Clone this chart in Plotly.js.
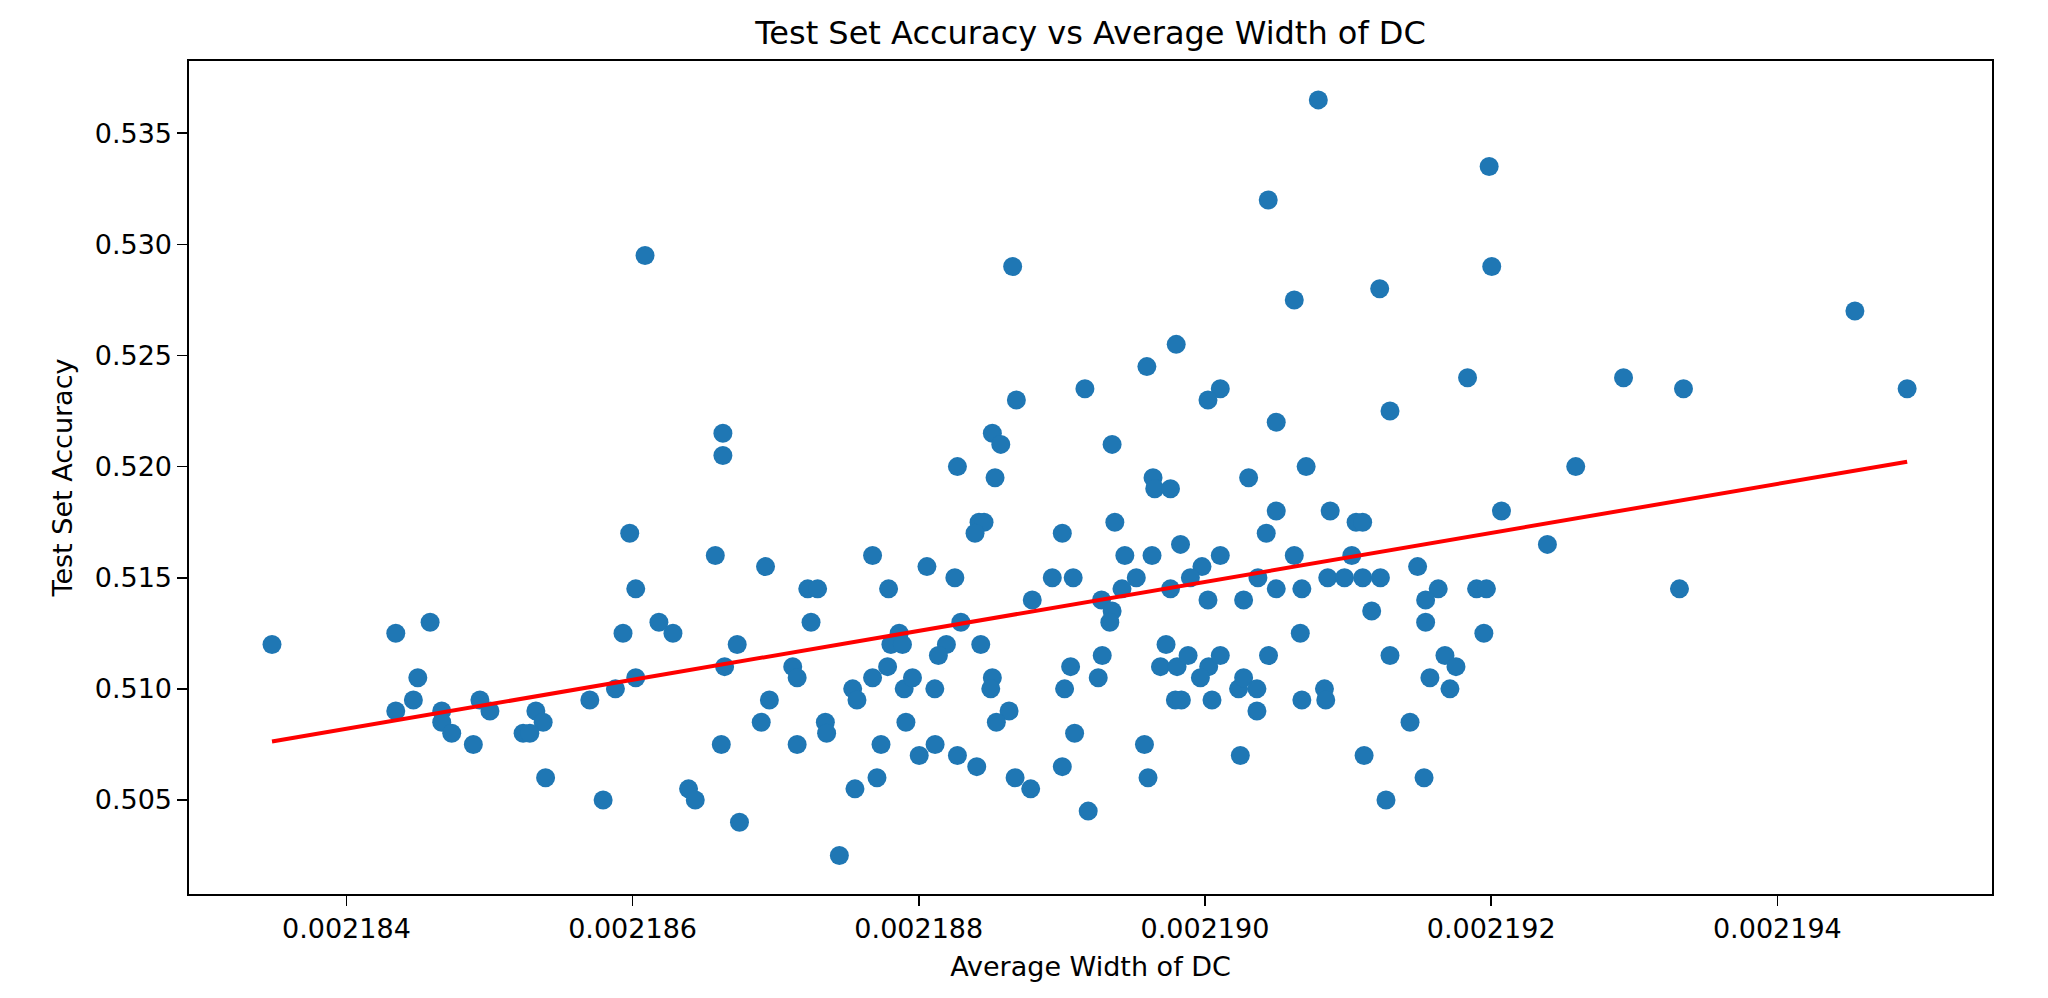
<!DOCTYPE html>
<html>
<head>
<meta charset="utf-8">
<script src="https://cdn.plot.ly/plotly-3.0.1.min.js"></script>
<style>
  html, body { margin: 0; padding: 0; background: #fff; }
  #chart { width: 2048px; height: 998px; }
</style>
</head>
<body>
<div id="chart"></div>
<script>
// average width of DC (x) and test set accuracy (y)
const widthDC = [
  0.00218348, 0.002184345, 0.002184585, 0.002184499, 0.002184468, 0.002184345, 0.002184666, 0.002184666,
  0.002184736, 0.002184933, 0.002185003, 0.002184887, 0.002185324, 0.002185375, 0.002185235, 0.002185282,
  0.002185392, 0.002186631, 0.002186631, 0.00218598, 0.002186578, 0.002186929, 0.002187677, 0.002186022,
  0.002187224, 0.002187293, 0.002187789, 0.002186184, 0.002186282, 0.002185933, 0.002187247, 0.002186731,
  0.002187863, 0.002187805, 0.002187886, 0.002186643, 0.002186022, 0.00218588, 0.002185701, 0.002187119,
  0.00218715, 0.002187782, 0.002187677, 0.002187538, 0.002187568, 0.002187898, 0.002186956, 0.002186899,
  0.002187347, 0.002187356, 0.00218662, 0.00218715, 0.002187736, 0.00218791, 0.002187708, 0.002187554,
  0.002185794, 0.002186391, 0.002186438, 0.002186747, 0.002187445,
  0.002189161, 0.002190107, 0.002190021, 0.002188682, 0.002188514, 0.002188573, 0.00218827, 0.002188533,
  0.002189351, 0.002189637, 0.002189649, 0.002189759, 0.002190305, 0.002188421, 0.002188456, 0.002188393,
  0.00218937, 0.002189003, 0.002189829, 0.002188057, 0.00218944, 0.00218963, 0.002190107, 0.002189979,
  0.002188252, 0.002188933, 0.002189079, 0.00218952, 0.002189898, 0.00218942, 0.002189759, 0.002188793,
  0.002189277, 0.002190021, 0.00219027, 0.002189351, 0.002189335, 0.002188294, 0.002188193, 0.002188137,
  0.002188433, 0.002187956, 0.002188112, 0.002188514, 0.002188503, 0.002188631, 0.002188542, 0.002189061,
  0.002189019, 0.002189282, 0.002189254, 0.002189089, 0.002189728, 0.002189689, 0.002189805, 0.002189882,
  0.002190026, 0.002189968, 0.002190107, 0.002189793, 0.002189835, 0.002190049, 0.002190235, 0.00219027,
  0.002188114, 0.002188003, 0.00218827, 0.002188405, 0.002188673, 0.002188782, 0.002189003, 0.002189184,
  0.002189577, 0.002189602, 0.002190247,
  0.002191835, 0.002191293, 0.002190498, 0.002190707, 0.002192591, 0.002190498, 0.002190875, 0.002191056,
  0.002191102, 0.002192072, 0.002190428, 0.002192393, 0.002190624, 0.002191026, 0.002191486, 0.00219037,
  0.002190498, 0.002190677, 0.002190858, 0.002190975, 0.002191102, 0.002191226, 0.00219163, 0.002191542,
  0.002191898, 0.002191967, 0.002191165, 0.002191542, 0.002190666, 0.002191949, 0.002190444, 0.002191293,
  0.002191677, 0.002191754, 0.002191572, 0.002191712, 0.002190363, 0.002190363, 0.002190677, 0.002190835,
  0.002190844, 0.002191433, 0.002191112, 0.002191531, 0.002191265,
  0.002186087, 0.002188656, 0.002190792, 0.002191986, 0.002190442, 0.002192004, 0.002191221, 0.002190624,
  0.002194542, 0.002189799, 0.002189594, 0.002192925, 0.002193344, 0.002194907, 0.002193316
];
const accuracy = [
  0.512, 0.5125, 0.513, 0.5105, 0.5095, 0.509, 0.509, 0.5085,
  0.508, 0.5095, 0.509, 0.5075, 0.509, 0.5085, 0.508, 0.508,
  0.506, 0.5215, 0.5205, 0.517, 0.516, 0.5155, 0.516, 0.5145,
  0.5145, 0.5145, 0.5145, 0.513, 0.5125, 0.5125, 0.513, 0.512,
  0.5125, 0.512, 0.512, 0.511, 0.5105, 0.510, 0.5095, 0.511,
  0.5105, 0.511, 0.5105, 0.510, 0.5095, 0.510, 0.5095, 0.5085,
  0.5085, 0.508, 0.5075, 0.5075, 0.5075, 0.5085, 0.506, 0.5055,
  0.505, 0.5055, 0.505, 0.504, 0.5025,
  0.5235, 0.5235, 0.523, 0.523, 0.5215, 0.521, 0.520, 0.5195,
  0.521, 0.5195, 0.519, 0.519, 0.5195, 0.5175, 0.5175, 0.517,
  0.5175, 0.517, 0.5165, 0.5155, 0.516, 0.516, 0.516, 0.5155,
  0.515, 0.515, 0.515, 0.515, 0.515, 0.5145, 0.5145, 0.514,
  0.514, 0.514, 0.514, 0.5135, 0.513, 0.513, 0.512, 0.5115,
  0.512, 0.5105, 0.510, 0.5105, 0.510, 0.509, 0.5085, 0.511,
  0.510, 0.5115, 0.5105, 0.508, 0.512, 0.511, 0.511, 0.5115,
  0.511, 0.5105, 0.5115, 0.5095, 0.5095, 0.5095, 0.510, 0.5105,
  0.5075, 0.507, 0.507, 0.5065, 0.506, 0.5055, 0.5065, 0.5045,
  0.5075, 0.506, 0.507,
  0.524, 0.5225, 0.522, 0.520, 0.520, 0.518, 0.518, 0.5175,
  0.5175, 0.518, 0.517, 0.5165, 0.516, 0.516, 0.5155, 0.515,
  0.5145, 0.5145, 0.515, 0.515, 0.515, 0.515, 0.5145, 0.514,
  0.5145, 0.5145, 0.5135, 0.513, 0.5125, 0.5125, 0.5115, 0.5115,
  0.5115, 0.511, 0.5105, 0.510, 0.510, 0.509, 0.5095, 0.510,
  0.5095, 0.5085, 0.507, 0.506, 0.505,
  0.5295, 0.529, 0.5365, 0.5335, 0.532, 0.529, 0.528, 0.5275,
  0.527, 0.5255, 0.5245, 0.524, 0.5235, 0.5235, 0.5145
];

// fitted trend line, end points
const fitX = [0.00218348, 0.002194907];
const fitY = [0.50763, 0.52022];

const FONT = 'DejaVu Sans, Liberation Sans, sans-serif';

const data = [
  {
    x: widthDC,
    y: accuracy,
    mode: 'markers',
    type: 'scatter',
    marker: {color: '#1f77b4', size: 19, line: {width: 0}},
    hoverinfo: 'x+y'
  },
  {
    x: fitX,
    y: fitY,
    mode: 'lines',
    type: 'scatter',
    line: {color: '#ff0000', width: 4},
    hoverinfo: 'skip'
  }
];

const axisStyle = {
  showline: true,
  mirror: true,
  linecolor: '#000',
  linewidth: 1.6,
  ticks: 'outside',
  ticklen: 10,
  tickwidth: 1.6,
  tickcolor: '#000',
  showgrid: false,
  zeroline: false,
  tickfont: {family: FONT, size: 27, color: '#000'}
};

const layout = {
  width: 2048,
  height: 998,
  paper_bgcolor: '#fff',
  plot_bgcolor: '#fff',
  showlegend: false,
  margin: {l: 189, r: 56, t: 61, b: 104},
  title: {
    text: 'Test Set Accuracy vs Average Width of DC',
    font: {family: FONT, size: 32, color: '#000'},
    x: 0.5, xref: 'paper', xanchor: 'center',
    y: 1 - 33 / 998, yref: 'container', yanchor: 'middle'
  },
  xaxis: Object.assign({}, axisStyle, {
    range: [0.0021829, 0.0021955],
    tick0: 0.002184,
    dtick: 0.000002,
    tickformat: '.6f',
    title: {text: 'Average Width of DC', font: {family: FONT, size: 27, color: '#000'}, standoff: 14}
  }),
  yaxis: Object.assign({}, axisStyle, {
    range: [0.50077, 0.53825],
    tick0: 0.505,
    dtick: 0.005,
    tickformat: '.3f',
    title: {text: 'Test Set Accuracy', font: {family: FONT, size: 27, color: '#000'}, standoff: 14}
  })
};

Plotly.newPlot('chart', data, layout, {displayModeBar: false, staticPlot: true});
</script>
</body>
</html>
